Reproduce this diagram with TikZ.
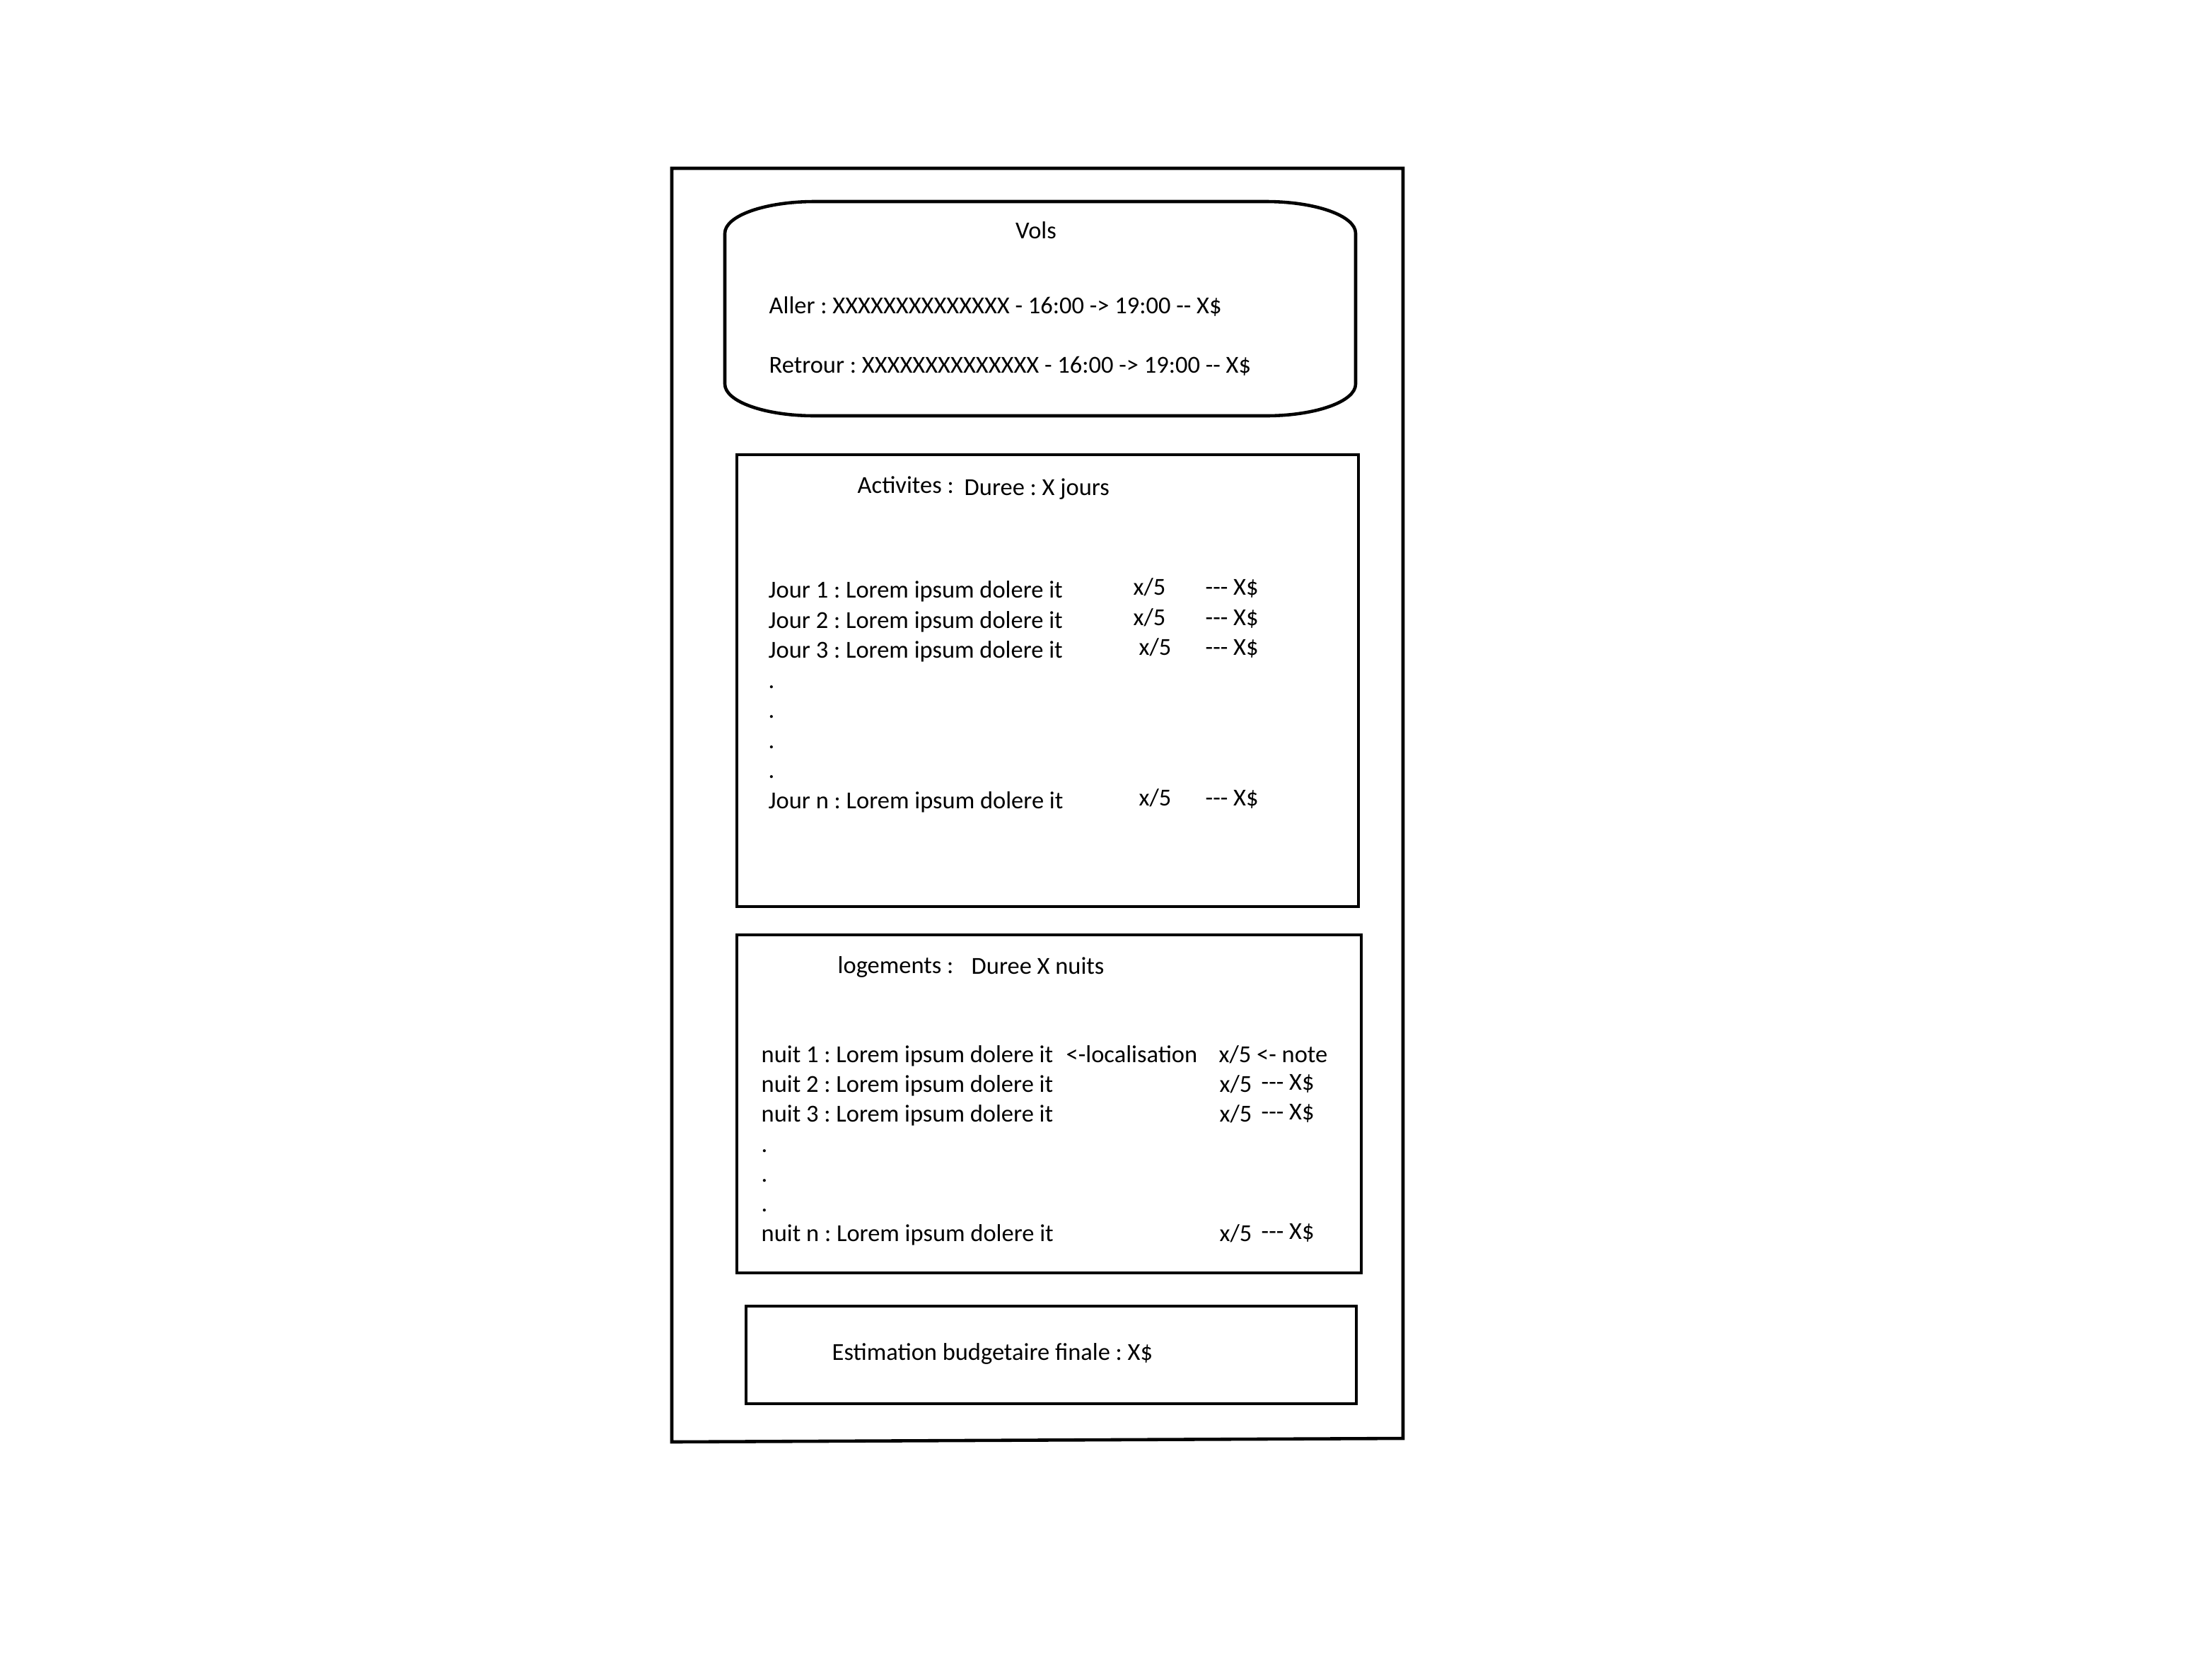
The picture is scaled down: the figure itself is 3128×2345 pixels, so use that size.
\documentclass[tikz,border=0pt]{standalone}
\usepackage{fontspec}
\setmainfont{Carlito}[Ligatures=TeXOff]
\usepackage{tikz}
\frenchspacing

\begin{document}
\begin{tikzpicture}[
    x=0.01cm, y=-0.01cm,
    frame/.style={draw, line width=1.3pt},
    txt/.style={anchor=base west, inner sep=0pt, font=\fontsize{9.8pt}{12pt}\selectfont}
  ]
    \useasboundingbox (0,0) rectangle (3128,2345);

    % Page
    \draw[frame] (950,238) -- (1984,238) -- (1984,2034) -- (950,2039) -- cycle;

    % Vols
    \draw[frame] (1152,285) -- (1790,285)
      .. controls (1860,285) and (1917,305) .. (1917,330) -- (1917,543)
      .. controls (1917,568) and (1860,588) .. (1790,588) -- (1152,588)
      .. controls (1082,588) and (1025,568) .. (1025,543) -- (1025,330)
      .. controls (1025,305) and (1082,285) .. (1152,285) -- cycle;
    \node[txt, anchor=base] (vols) at (1465,337) {Vols};
    \node[txt] (aller) at (1087,443) {Aller : XXXXXXXXXXXXXX - 16:00 -> 19:00 -- X\$};
    \node[txt] (retour) at (1087,527) {Retrour : XXXXXXXXXXXXXX - 16:00 -> 19:00 -- X\$};

    % Activites
    \draw[frame] (1042,643) rectangle (1921,1282);
    \node[txt] (acttitle) at (1212,697) {Activites :};
    \node[txt] (actduree) at (1363,700) {Duree : X jours};
    \node[txt] (jour1) at (1086,845) {Jour 1 : Lorem ipsum dolere it};
    \node[txt] (jour2) at (1086,888) {Jour 2 : Lorem ipsum dolere it};
    \node[txt] (jour3) at (1086,930) {Jour 3 : Lorem ipsum dolere it};
    \node[txt] (jdot1) at (1086,973) {.};
    \node[txt] (jdot2) at (1086,1015) {.};
    \node[txt] (jdot3) at (1086,1058) {.};
    \node[txt] (jdot4) at (1086,1100) {.};
    \node[txt] (journ) at (1086,1143) {Jour n : Lorem ipsum dolere it};
    \node[txt] (jnote1) at (1602,841) {x/5};
    \node[txt] (jnote2) at (1602,884) {x/5};
    \node[txt] (jnote3) at (1610,926) {x/5};
    \node[txt] (jnoten) at (1610,1139) {x/5};
    \node[txt] (jprix1) at (1704,841) {--- X\$};
    \node[txt] (jprix2) at (1704,884) {--- X\$};
    \node[txt] (jprix3) at (1704,926) {--- X\$};
    \node[txt] (jprixn) at (1704,1139) {--- X\$};

    % Logements
    \draw[frame] (1042,1322) rectangle (1925,1800);
    \node[txt] (logtitle) at (1184,1376) {logements :};
    \node[txt] (logduree) at (1373,1377) {Duree X nuits};
    \node[txt] (nuit1) at (1076,1502) {nuit 1 : Lorem ipsum dolere it};
    \node[txt] (nuit2) at (1076,1544) {nuit 2 : Lorem ipsum dolere it};
    \node[txt] (nuit3) at (1076,1586) {nuit 3 : Lorem ipsum dolere it};
    \node[txt] (ndot1) at (1076,1629) {.};
    \node[txt] (ndot2) at (1076,1671) {.};
    \node[txt] (ndot3) at (1076,1713) {.};
    \node[txt] (nuitn) at (1076,1755) {nuit n : Lorem ipsum dolere it};
    \node[txt] (nloc1) at (1507,1502) {<-localisation};
    \node[txt] (nnote1) at (1723,1502) {x/5 <- note};
    \node[txt] (nnote2) at (1724,1544) {x/5};
    \node[txt] (nnote3) at (1724,1586) {x/5};
    \node[txt] (nnoten) at (1724,1755) {x/5};
    \node[txt] (nprix2) at (1783,1541) {--- X\$};
    \node[txt] (nprix3) at (1783,1583) {--- X\$};
    \node[txt] (nprixn) at (1783,1752) {--- X\$};

    % Budget
    \draw[frame] (1055,1847) rectangle (1918,1985);
    \node[txt] (budget) at (1176,1923) {Estimation budgetaire finale : X\$};
  \end{tikzpicture}
\end{document}
